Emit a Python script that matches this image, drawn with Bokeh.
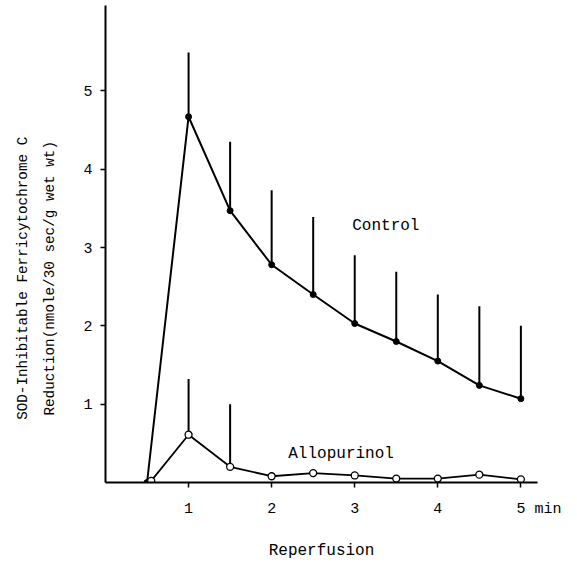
from bokeh.plotting import figure
from bokeh.models import Label, FixedTicker, Range1d
from bokeh.embed import file_html
from bokeh.resources import INLINE

# Data
ctrl_x = [0.5, 1.0, 1.5, 2.0, 2.5, 3.0, 3.5, 4.0, 4.5, 5.0]
ctrl_y = [0.0, 4.67, 3.47, 2.78, 2.40, 2.03, 1.80, 1.55, 1.24, 1.07]
ctrl_upper = [None, 5.49, 4.35, 3.73, 3.39, 2.90, 2.69, 2.40, 2.25, 2.00]

allo_x = [0.55, 1.0, 1.5, 2.0, 2.5, 3.0, 3.5, 4.0, 4.5, 5.0]
allo_y = [0.02, 0.61, 0.20, 0.08, 0.12, 0.09, 0.05, 0.05, 0.10, 0.04]
allo_upper = [None, 1.32, 1.00, None, None, None, None, None, None, None]

x_ticks = [1, 2, 3, 4, 5]
x_tick_labels = {5: "5 min"}
y_ticks = [1, 2, 3, 4, 5]

FONT = "Liberation Mono"
NB = "\u00a0"

p = figure(width=577, height=562, output_backend="svg", toolbar_location=None,
           x_range=Range1d(0, 5.2), y_range=Range1d(0, 6.09),
           min_border_left=105, min_border_right=40, min_border_top=5, min_border_bottom=80)
p.outline_line_color = None
p.xgrid.visible = False
p.ygrid.visible = False
p.background_fill_color = "white"

for ax in (p.xaxis[0], p.yaxis[0]):
    ax.axis_line_width = 2
    ax.axis_line_color = "black"
    ax.major_tick_line_width = 1.5
    ax.major_tick_in = 0
    ax.major_tick_out = 5
    ax.minor_tick_line_color = None
    ax.major_label_text_font = FONT
    ax.major_label_text_font_size = "15px"
    ax.major_label_text_color = "black"

p.xaxis[0].ticker = FixedTicker(ticks=x_ticks)
p.xaxis[0].major_label_overrides = {k: NB * 4 + v for k, v in x_tick_labels.items()}
p.yaxis[0].ticker = FixedTicker(ticks=y_ticks)
p.xaxis[0].major_label_standoff = 13
p.yaxis[0].major_label_standoff = 8
p.xaxis[0].axis_label = "Reperfusion"
p.xaxis[0].axis_label_text_font = FONT
p.xaxis[0].axis_label_text_font_style = "normal"
p.xaxis[0].axis_label_text_font_size = "16px"
p.xaxis[0].axis_label_text_color = "black"
p.xaxis[0].axis_label_standoff = 21

y_title = ["SOD-Inhibitable Ferricytochrome C", "Reduction(nmole/30 sec/g wet wt)"]
p.yaxis[0].axis_label = "\n".join(t + NB * 8 for t in y_title)
p.yaxis[0].axis_label_text_font = FONT
p.yaxis[0].axis_label_text_font_style = "normal"
p.yaxis[0].axis_label_text_font_size = "14.3px"
p.yaxis[0].axis_label_text_color = "black"
p.yaxis[0].axis_label_text_line_height = 1.7
p.yaxis[0].axis_label_standoff = 22

# error bars (upward only)
def bars(xs, ys, ups):
    bx, by, bu = [], [], []
    for a, b, c in zip(xs, ys, ups):
        if c is not None:
            bx.append(a); by.append(b); bu.append(c)
    return bx, by, bu

bx, by, bu = bars(ctrl_x, ctrl_y, ctrl_upper)
p.segment(x0=bx, y0=by, x1=bx, y1=bu, line_color="black", line_width=2)
bx, by, bu = bars(allo_x, allo_y, allo_upper)
p.segment(x0=bx, y0=by, x1=bx, y1=bu, line_color="black", line_width=2)

p.line(ctrl_x, ctrl_y, line_color="black", line_width=2)
p.scatter(ctrl_x, ctrl_y, size=6, marker="circle", fill_color="black", line_color="black")
p.line(allo_x, allo_y, line_color="black", line_width=1.8)
p.scatter(allo_x, allo_y, size=7, marker="circle", fill_color="white", line_color="black", line_width=1.3)

def lab(x, y, text, size="16px"):
    p.add_layout(Label(x=x, y=y, text=text, text_font=FONT, text_font_size=size,
                       text_color="black", text_align="left", text_baseline="middle"))

lab(2.97, 3.27, "Control")
lab(2.20, 0.37, "Allopurinol")

open("out.html", "w").write(file_html(p, INLINE))
